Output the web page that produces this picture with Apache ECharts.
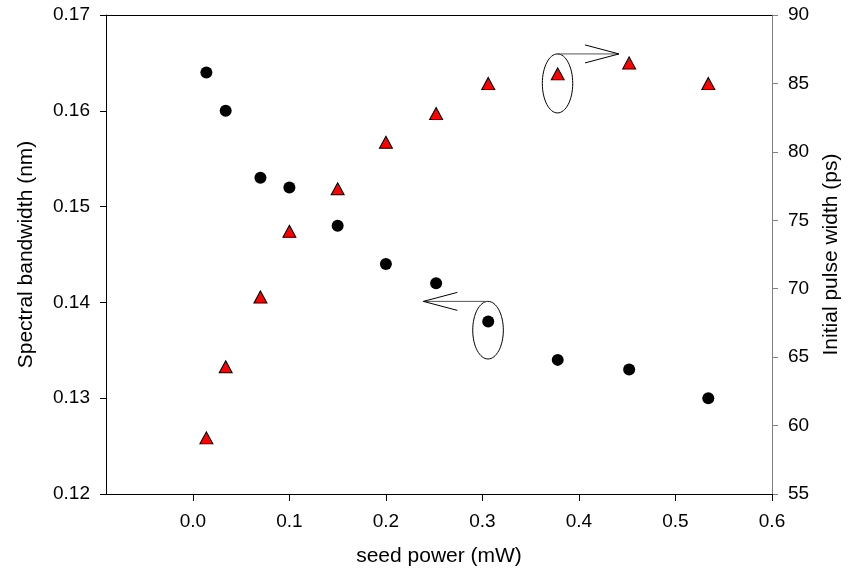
<!DOCTYPE html>
<html>
<head>
<meta charset="utf-8">
<script src="https://cdn.jsdelivr.net/npm/echarts@6/dist/echarts.min.js"></script>
<style>html,body{margin:0;padding:0;background:#fff}#c{width:855px;height:574px}</style>
</head>
<body>
<div id="c"></div>
<script>
// ---- data ----
const seedPower = [0.014, 0.034, 0.07, 0.1, 0.15, 0.2, 0.252, 0.306, 0.378, 0.452, 0.534];
const bandwidth = [0.164, 0.160, 0.153, 0.152, 0.148, 0.144, 0.142, 0.138, 0.134, 0.133, 0.130];
const pulseWidth = [59.1, 64.3, 69.4, 74.2, 77.3, 80.7, 82.8, 85.0, 85.7, 86.5, 85.0];
const xTicks = [0, 0.1, 0.2, 0.3, 0.4, 0.5, 0.6];
const yLeftTicks = [0.12, 0.13, 0.14, 0.15, 0.16, 0.17];
const yRightTicks = [55, 60, 65, 70, 75, 80, 85, 90];
const xTitle = 'seed power (mW)';
const yLeftTitle = 'Spectral bandwidth (nm)';
const yRightTitle = 'Initial pulse width (ps)';

const FONT = 'Arial, "Liberation Sans", sans-serif';
const chart = echarts.init(document.getElementById('c'), null, {renderer: 'canvas'});
const lab = {color: '#000', fontFamily: FONT, fontSize: 19};
const ttl = {color: '#000', fontFamily: FONT, fontSize: 21};

chart.setOption({
  animation: false,
  backgroundColor: '#fff',
  grid: {left: 106, right: 83, top: 15, bottom: 80},
  xAxis: [{
    type: 'value', min: -0.09, max: 0.6,
    name: xTitle, nameLocation: 'middle', nameGap: 52,
    nameTextStyle: ttl,
    axisLine: {show: true, onZero: false, lineStyle: {color: '#000', width: 1}},
    axisTick: {show: true, inside: false, length: 7, customValues: xTicks, lineStyle: {color: '#000'}},
    axisLabel: Object.assign({customValues: xTicks, margin: 18, formatter: v => v.toFixed(1)}, lab),
    splitLine: {show: false}
  }, {
    type: 'value', min: -0.09, max: 0.6, position: 'top',
    axisLine: {show: true, onZero: false, lineStyle: {color: '#000', width: 1}},
    axisTick: {show: false}, axisLabel: {show: false}, splitLine: {show: false}
  }],
  yAxis: [{
    type: 'value', min: 0.12, max: 0.17, position: 'left',
    name: yLeftTitle, nameLocation: 'middle', nameRotate: 90, nameGap: 69,
    nameTextStyle: ttl,
    axisLine: {show: true, onZero: false, lineStyle: {color: '#000', width: 1}},
    axisTick: {show: true, length: 6, customValues: yLeftTicks, lineStyle: {color: '#000'}},
    axisLabel: Object.assign({customValues: yLeftTicks, margin: 16, formatter: v => v.toFixed(2)}, lab),
    splitLine: {show: false}
  }, {
    type: 'value', min: 55, max: 90, position: 'right',
    name: yRightTitle, nameLocation: 'middle', nameRotate: 90, nameGap: 49,
    nameTextStyle: ttl,
    axisLine: {show: true, onZero: false, lineStyle: {color: '#808080', width: 1}},
    axisTick: {show: true, length: 6, customValues: yRightTicks, lineStyle: {color: '#808080'}},
    axisLabel: Object.assign({customValues: yRightTicks, margin: 16, formatter: v => String(v)}, lab),
    splitLine: {show: false}
  }],
  series: [{
    type: 'scatter', xAxisIndex: 0, yAxisIndex: 0,
    data: seedPower.map((x, i) => [x, bandwidth[i]]),
    symbol: 'circle', symbolSize: 12,
    itemStyle: {color: '#000', opacity: 1}
  }, {
    type: 'scatter', xAxisIndex: 0, yAxisIndex: 1,
    data: seedPower.map((x, i) => [x, pulseWidth[i]]),
    symbol: 'triangle', symbolSize: [13, 12],
    itemStyle: {color: '#ff0000', borderColor: '#000', borderWidth: 1, opacity: 1}
  }]
});

// annotations anchored in data coordinates
function px(seriesIndex, pt) { return chart.convertToPixel({seriesIndex: seriesIndex}, pt); }
function annotation(seriesIndex, center, tip, rx, ry, dir) {
  const c = px(seriesIndex, center);
  const t = px(seriesIndex, tip);
  const topY = c[1] - ry;
  const hx = t[0] + dir * 34;
  return [
    {type: 'ellipse', shape: {cx: c[0], cy: c[1], rx: rx, ry: ry},
     style: {fill: null, stroke: '#000', lineWidth: 1}, z: 10},
    {type: 'line', shape: {x1: c[0], y1: topY, x2: t[0], y2: topY},
     style: {stroke: '#555', lineWidth: 1}, z: 10},
    {type: 'polyline', shape: {points: [[hx, topY - 9], [t[0], topY], [hx, topY + 9]]},
     style: {stroke: '#000', lineWidth: 1, fill: null}, z: 10}
  ];
}
const g = [].concat(
  annotation(0, [0.3058, 0.1371], [0.2388, 0.14], 15.3, 28.8, 1),
  annotation(1, [0.3778, 85.0], [0.4415, 85.0], 15.2, 29.5, -1)
);
chart.setOption({graphic: g});
</script>
</body>
</html>
